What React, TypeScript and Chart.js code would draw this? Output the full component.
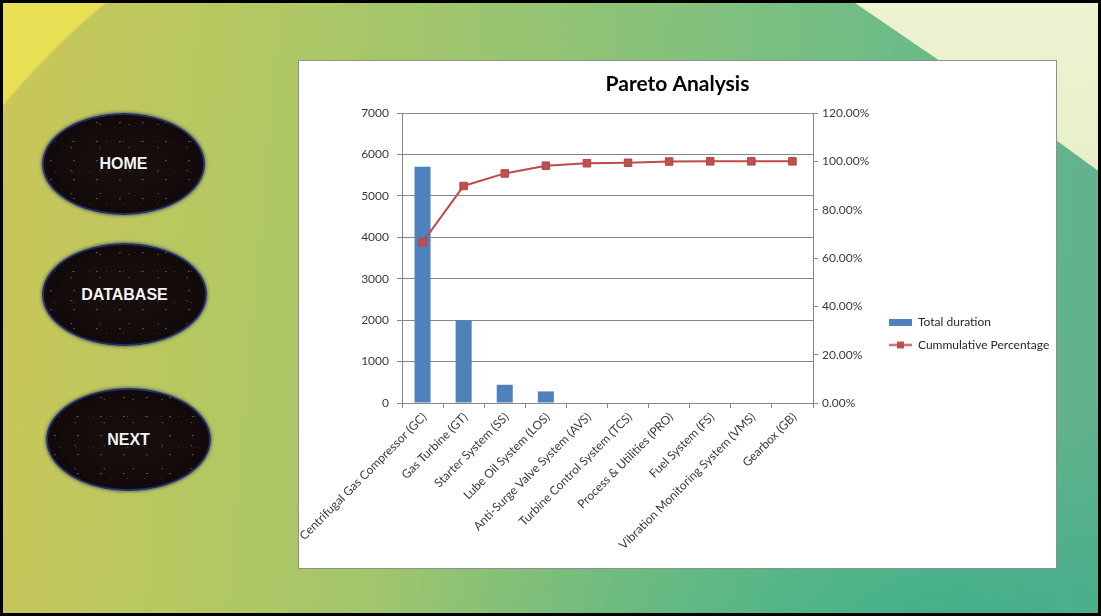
import React, { useEffect, useRef } from 'react';
import { Chart, registerables } from 'chart.js';

Chart.register(...registerables);

// ---- data ----
const categories = [
  'Centrifugal Gas Compressor (GC)',
  'Gas Turbine (GT)',
  'Starter System (SS)',
  'Lube Oil System (LOS)',
  'Anti-Surge Valve System (AVS)',
  'Turbine Control System (TCS)',
  'Process & Utilities (PRO)',
  'Fuel System (FS)',
  'Vibration Monitoring System (VMS)',
  'Gearbox (GB)',
];
const totalDuration = [5700, 2000, 440, 280, 0, 0, 0, 0, 0, 0];
const cumulativePercentage = [66.5, 89.8, 95.0, 98.2, 99.2, 99.4, 99.9, 100, 100, 100];
const seriesLabels = ['Total duration', 'Cummulative Percentage'];
const chartTitle = 'Pareto Analysis';
const leftAxisRange = [0, 7000, 1000];
const rightAxisRange = [0, 120, 20];
const navButtons = ['HOME', 'DATABASE', 'NEXT'];

// ---- styles ----
const FONT = "Lato, 'Liberation Sans', sans-serif";
const BAR_COLOR = '#4F81BD';
const LINE_COLOR = '#BE4B48';
const GRID_COLOR = '#878787';
const TICK_COLOR = '#3a3a3a';
const CANVAS_W = 757;
const CANVAS_H = 507;
const LEGEND_LEFT = 579;

function makeBarSwatch() {
  const c = document.createElement('canvas');
  c.width = 23;
  c.height = 7;
  const ctx = c.getContext('2d')!;
  ctx.fillStyle = BAR_COLOR;
  ctx.fillRect(0, 0, 23, 7);
  return c;
}

function makeLineSwatch() {
  const c = document.createElement('canvas');
  c.width = 23;
  c.height = 9;
  const ctx = c.getContext('2d')!;
  ctx.strokeStyle = LINE_COLOR;
  ctx.lineWidth = 2;
  ctx.beginPath();
  ctx.moveTo(0, 4.5);
  ctx.lineTo(23, 4.5);
  ctx.stroke();
  ctx.fillStyle = '#C0504D';
  ctx.fillRect(8, 1, 7, 7);
  return c;
}

const legendPlacer = {
  id: 'legendPlacer',
  afterLayout(chart: any) {
    const lg = chart.legend;
    if (!lg) return;
    const h = lg.height;
    lg.left = LEGEND_LEFT;
    lg.right = CANVAS_W;
    lg.width = CANVAS_W - LEGEND_LEFT;
    lg.top = 244;
    lg.bottom = 244 + h;
  },
};

function ParetoChart() {
  const ref = useRef<HTMLCanvasElement | null>(null);
  useEffect(() => {
    if (!ref.current) return;
    const barImg = makeBarSwatch();
    const lineImg = makeLineSwatch();
    const tickFont = { family: FONT, size: 12 };
    const chart = new Chart(ref.current, {
      type: 'bar',
      data: {
        labels: categories,
        datasets: [
          {
            type: 'bar',
            label: seriesLabels[0],
            data: totalDuration,
            backgroundColor: BAR_COLOR,
            yAxisID: 'y',
            order: 2,
            barPercentage: 0.39,
            categoryPercentage: 1,
          } as any,
          {
            type: 'line',
            label: seriesLabels[1],
            data: cumulativePercentage,
            borderColor: LINE_COLOR,
            backgroundColor: LINE_COLOR,
            borderWidth: 2,
            pointStyle: 'rect',
            pointRadius: 5.3,
            pointBackgroundColor: '#C0504D',
            pointBorderColor: '#B24441',
            pointBorderWidth: 1,
            yAxisID: 'y1',
            order: 1,
            tension: 0,
          } as any,
        ],
      },
      options: {
        animation: false,
        responsive: false,
        maintainAspectRatio: false,
        layout: { padding: 0 },
        plugins: {
          title: {
            display: true,
            text: chartTitle,
            color: '#000',
            font: { family: FONT, size: 21, weight: 'bold' },
            padding: { top: 11, bottom: 15.8 },
          },
          legend: {
            position: 'right',
            align: 'start',
            labels: {
              usePointStyle: true,
              pointStyleWidth: 23,
              boxHeight: 7,
              padding: 11,
              color: '#262626',
              font: { family: FONT, size: 12 },
              generateLabels: (c: any) =>
                c.data.datasets.map((ds: any, i: number) => ({
                  text: ds.label,
                  pointStyle: i === 0 ? barImg : lineImg,
                  datasetIndex: i,
                  hidden: false,
                  fillStyle: 'transparent',
                  strokeStyle: 'transparent',
                  lineWidth: 0,
                  fontColor: '#262626',
                })),
            },
          },
          tooltip: { enabled: false },
        },
        scales: {
          x: {
            grid: { display: true, drawOnChartArea: false, drawTicks: true, tickLength: 5, color: GRID_COLOR },
            border: { color: GRID_COLOR },
            ticks: {
              minRotation: 45,
              maxRotation: 45,
              autoSkip: false,
              color: TICK_COLOR,
              font: tickFont,
              padding: 2,
              labelOffset: 2,
            },
            afterFit: (s: any) => {
              s.height = 165;
              s.paddingLeft = 0;
              s.paddingRight = 0;
            },
          },
          y: {
            position: 'left',
            min: leftAxisRange[0],
            max: leftAxisRange[1],
            ticks: {
              stepSize: leftAxisRange[2],
              color: TICK_COLOR,
              font: tickFont,
              padding: 8,
              callback: (v: any) => String(v),
            },
            grid: { color: GRID_COLOR, tickLength: 5 },
            border: { color: GRID_COLOR },
            afterFit: (s: any) => {
              s.width = 103;
            },
          },
          y1: {
            position: 'right',
            min: rightAxisRange[0],
            max: rightAxisRange[1],
            ticks: {
              stepSize: rightAxisRange[2],
              color: TICK_COLOR,
              font: tickFont,
              padding: 4,
              callback: (v: any) => Number(v).toFixed(2) + '%',
            },
            grid: { drawOnChartArea: false, tickLength: 5, color: GRID_COLOR },
            border: { color: GRID_COLOR },
            afterFit: (s: any) => {
              const lw = (s.chart.legend && s.chart.legend.width) || 0;
              s.width = CANVAS_W - 514 - lw;
            },
          },
        },
      } as any,
      plugins: [legendPlacer],
    });
    return () => chart.destroy();
  }, []);
  return <canvas ref={ref} width={CANVAS_W} height={CANVAS_H} style={{ display: 'block', width: CANVAS_W, height: CANVAS_H }} />;
}

const speckles =
  'radial-gradient(circle at 30% 40%, rgba(255,240,200,0.3) 0.5px, transparent 1.1px) 0 0 / 23px 19px,' +
  'radial-gradient(circle at 70% 20%, rgba(255,255,230,0.25) 0.5px, transparent 1.1px) 7px 5px / 29px 23px,' +
  'radial-gradient(circle at 50% 50%, rgba(255,220,180,0.2) 0.5px, transparent 1px) 3px 11px / 17px 31px,' +
  'radial-gradient(ellipse at 50% 50%, #1a0f0f 0%, #120a0a 70%, #0f0b14 100%)';

const buttonBoxes = [
  { left: 42, top: 113, width: 163, height: 102 },
  { left: 42, top: 243, width: 165, height: 103 },
  { left: 46, top: 388, width: 165, height: 103 },
];

export default function App() {
  return (
    <div
      style={{
        position: 'absolute',
        left: 0,
        top: 0,
        width: 1101,
        height: 616,
        overflow: 'hidden',
        boxSizing: 'border-box',
        border: '3px solid #000',
        background:
          'radial-gradient(circle 780px at 600px 600px, rgba(0,0,0,0) 778px, #e8e156 781px),' +
          'radial-gradient(ellipse 560px 200px at 85% 100%, rgba(58,174,138,0.75), rgba(58,174,138,0) 100%),' +
          'linear-gradient(95deg, #cbc658 0%, #b3c862 22%, #98c472 45%, #7cc080 66%, #64b98b 85%, #60b08d 100%)',
      }}
    >
      <div
        style={{
          position: 'absolute',
          left: 0,
          top: 0,
          width: 1101,
          height: 616,
          clipPath: 'polygon(852px 0px, 1101px 0px, 1101px 172px, 1057px 140px)',
          background:
            'linear-gradient(180deg, rgba(240,244,210,0.98) 0%, rgba(230,238,196,0.96) 60%, rgba(214,228,176,0.95) 100%)',
        }}
      />
      {navButtons.map((label, i) => (
        <div
          key={label}
          style={{
            position: 'absolute',
            left: buttonBoxes[i].left - 3,
            top: buttonBoxes[i].top - 3,
            width: buttonBoxes[i].width,
            height: buttonBoxes[i].height,
            boxSizing: 'border-box',
            borderRadius: '50%',
            border: '2px solid #24306a',
            boxShadow: '0 0 3px 1px rgba(30,40,90,0.55)',
            background: speckles,
            display: 'flex',
            alignItems: 'center',
            justifyContent: 'center',
            color: '#f4f4f4',
            fontFamily: "'Liberation Sans', Arial, sans-serif",
            fontWeight: 'bold',
            fontSize: 16,
            textShadow: '0 0 2px rgba(0,0,0,0.8)',
          }}
        >
          {label}
        </div>
      ))}
      <div
        style={{
          position: 'absolute',
          left: 295,
          top: 57,
          width: 759,
          height: 509,
          boxSizing: 'border-box',
          border: '1px solid #8f8f8f',
          background: '#fff',
        }}
      >
        <ParetoChart />
      </div>
    </div>
  );
}
